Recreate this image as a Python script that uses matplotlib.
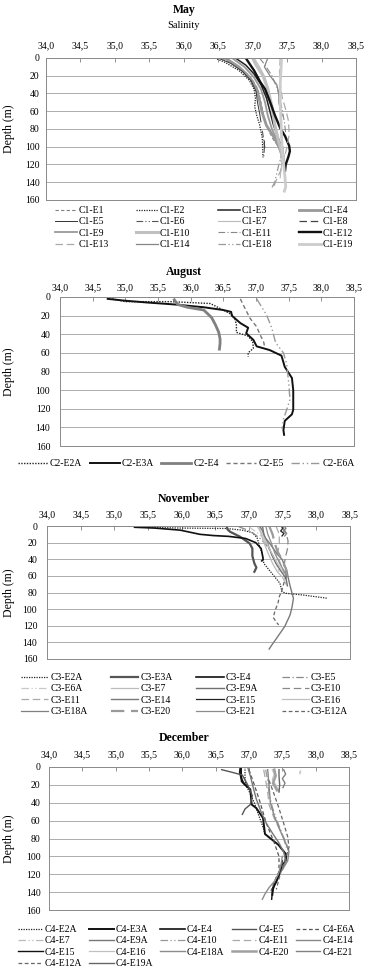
import matplotlib
matplotlib.use('Agg')
import matplotlib.pyplot as plt

plt.rcParams['font.family'] = ['Liberation Serif', 'DejaVu Serif']

W, H = 369, 975

# ---- eixos comuns ----
x_ticks = [34.0, 34.5, 35.0, 35.5, 36.0, 36.5, 37.0, 37.5, 38.0, 38.5]
x_tick_labels = ['34,0', '34,5', '35,0', '35,5', '36,0', '36,5', '37,0', '37,5', '38,0', '38,5']
y_ticks = [0, 20, 40, 60, 80, 100, 120, 140, 160]

# ---- May (C1) ----
may_labels = ['C1-E1', 'C1-E2', 'C1-E3', 'C1-E4', 'C1-E5', 'C1-E6', 'C1-E7', 'C1-E8',
              'C1-E9', 'C1-E10', 'C1-E11', 'C1-E12', 'C1-E13', 'C1-E14', 'C1-E18', 'C1-E19']
may_salinity = [
    [36.55, 36.70, 36.88, 37.00, 37.08, 37.12, 37.16, 37.22, 37.30, 37.38],
    [36.45, 36.60, 36.80, 36.95, 37.02, 37.04, 37.03, 37.06, 37.10, 37.14, 37.15],
    [36.75, 36.90, 37.02, 37.12, 37.20, 37.25, 37.30, 37.36, 37.42, 37.45],
    [36.60, 36.80, 36.96, 37.06, 37.10, 37.14, 37.20, 37.30, 37.38, 37.44],
    [36.50, 36.68, 36.85, 36.98, 37.05, 37.07, 37.10, 37.12],
    [37.14, 37.16, 37.17, 37.16],
    [37.02, 37.10, 37.18, 37.24, 37.28, 37.32, 37.36, 37.40, 37.42, 37.40],
    [37.17, 37.17, 37.18],
    [36.70, 36.88, 37.02, 37.12, 37.18, 37.22, 37.28, 37.35, 37.42],
    [37.00, 37.05, 37.15, 37.22, 37.28, 37.32, 37.38, 37.44, 37.46],
    [37.10, 37.18, 37.28, 37.36, 37.42, 37.46, 37.48],
    [36.90, 36.95, 37.02, 37.11, 37.18, 37.25, 37.32, 37.40, 37.47, 37.53, 37.54, 37.52, 37.48, 37.47],
    [37.40, 37.39, 37.40, 37.43, 37.48, 37.52, 37.53, 37.50, 37.45, 37.40, 37.33, 37.30],
    [37.22, 37.17, 37.25, 37.35, 37.38, 37.38, 37.40, 37.43],
    [37.45, 37.42, 37.38, 37.35, 37.32, 37.28],
    [37.42, 37.41, 37.40, 37.40, 37.41, 37.42, 37.43, 37.45, 37.47, 37.48, 37.46],
]
may_depth = [
    [0, 6, 15, 25, 36, 50, 65, 80, 92, 100],
    [0, 5, 14, 25, 35, 45, 55, 65, 75, 90, 112],
    [0, 8, 18, 30, 45, 60, 75, 88, 100, 110],
    [0, 10, 22, 35, 48, 62, 76, 88, 100, 112],
    [0, 6, 15, 26, 38, 50, 62, 72],
    [82, 92, 102, 112],
    [0, 10, 22, 38, 55, 72, 88, 105, 120, 135],
    [93, 98, 104],
    [0, 10, 22, 35, 50, 65, 80, 92, 104],
    [0, 8, 20, 35, 55, 75, 95, 110, 122],
    [0, 8, 20, 35, 55, 72, 85],
    [0, 6, 14, 27, 35, 49, 64, 79, 88, 99, 105, 111, 120, 127],
    [0, 15, 30, 45, 58, 71, 86, 100, 115, 128, 140, 147],
    [0, 10, 20, 30, 40, 50, 58, 65],
    [100, 110, 120, 130, 140, 146],
    [0, 15, 30, 50, 70, 90, 105, 120, 135, 145, 150],
]

# ---- August (C2) ----
aug_labels = ['C2-E2A', 'C2-E3A', 'C2-E4', 'C2-E5', 'C2-E6A']
aug_salinity = [
    [34.80, 35.00, 35.70, 36.30, 36.50, 36.63, 36.68, 36.70, 36.70, 36.88, 36.95, 36.96, 36.88, 36.88],
    [34.73, 35.00, 35.35, 35.75, 36.20, 36.50, 36.62, 36.63, 36.76, 36.88, 36.85, 36.96, 37.01,
     37.21, 37.39, 37.44, 37.55, 37.57, 37.57, 37.55, 37.44, 37.42, 37.43],
    [35.75, 35.80, 35.95, 36.20, 36.32, 36.38, 36.43, 36.45, 36.45, 36.44],
    [36.76, 36.83, 36.91, 37.01, 37.06, 37.12, 37.13],
    [37.01, 37.16, 37.24, 37.30, 37.42, 37.47, 37.50, 37.52, 37.47, 37.42, 37.40],
]
aug_depth = [
    [2, 5, 5, 7, 14, 19, 24, 30, 38, 42, 48, 55, 60, 64],
    [2, 4, 6, 8, 11, 14, 16, 20, 28, 33, 39, 46, 53, 57, 63, 75, 87, 100, 121, 126, 133, 143, 148],
    [3, 8, 11, 14, 22, 30, 38, 45, 50, 56],
    [2, 12, 23, 32, 40, 49, 53],
    [2, 19, 33, 49, 60, 72, 92, 110, 121, 131, 142],
]

# ---- November (C3) ----
nov_labels = ['C3-E2A', 'C3-E3A', 'C3-E4', 'C3-E5', 'C3-E6A', 'C3-E7', 'C3-E9A', 'C3-E10',
              'C3-E11', 'C3-E14', 'C3-E15', 'C3-E16', 'C3-E18A', 'C3-E20', 'C3-E21', 'C3-E12A']
nov_salinity = [
    [35.45, 36.00, 36.67, 36.90, 37.05, 37.12, 37.16, 37.20, 37.22, 37.32, 37.46, 37.49, 37.55, 37.80, 38.17],
    [36.67, 36.68, 36.72, 36.87, 37.01, 37.05, 37.05, 37.08, 37.11, 37.08],
    [35.30, 35.60, 35.98, 36.27, 36.47, 36.70, 36.95, 37.10, 37.18, 37.20, 37.21, 37.19],
    [36.85, 36.95, 37.05, 37.15, 37.25, 37.33, 37.40],
    [37.00, 37.12, 37.22, 37.30, 37.38, 37.45],
    [37.15, 37.18, 37.22, 37.28, 37.35, 37.42, 37.50, 37.55],
    [37.20, 37.22, 37.28, 37.34, 37.40, 37.48, 37.55, 37.57],
    [37.50, 37.55, 37.58, 37.57, 37.54, 37.52, 37.55],
    [37.40, 37.45, 37.45, 37.42, 37.48, 37.52],
    [37.16, 37.20, 37.24, 37.30, 37.36, 37.42, 37.49, 37.56, 37.59, 37.61, 37.66, 37.64, 37.61,
     37.53, 37.41, 37.34, 37.30],
    [37.48, 37.50, 37.47, 37.52, 37.49],
    [37.12, 37.18, 37.25, 37.32, 37.40, 37.48],
    [37.52, 37.55, 37.51, 37.56, 37.53],
    [37.30, 37.35, 37.38, 37.42, 37.50, 37.55, 37.56],
    [37.25, 37.28, 37.33, 37.38, 37.45, 37.52, 37.56],
    [37.55, 37.52, 37.49, 37.45, 37.43, 37.39, 37.36, 37.40, 37.44],
]
nov_depth = [
    [1.5, 2.5, 3, 5, 8, 14, 25, 35, 45, 55, 69, 79, 81, 83, 87],
    [0, 4, 7, 13, 21, 27, 36, 45, 50, 55],
    [1.5, 2.5, 5, 10, 11.5, 12.5, 15, 20, 27, 35, 40, 42],
    [1, 4, 8, 14, 22, 32, 42],
    [1, 8, 16, 28, 42, 55],
    [0, 10, 20, 32, 45, 55, 62, 70],
    [0, 10, 22, 35, 45, 55, 63, 72],
    [1, 8, 18, 28, 38, 48, 58],
    [0, 10, 22, 35, 48, 58],
    [0, 6, 14, 20, 27, 34, 40, 53, 65, 72, 87, 97, 107, 121, 135, 143, 148],
    [0, 3, 6, 9, 12],
    [0, 8, 18, 30, 42, 52],
    [0, 3, 6, 9, 12],
    [0, 10, 20, 30, 42, 52, 60],
    [0, 10, 20, 32, 44, 54, 62],
    [60, 68, 77, 85, 93, 101, 110, 115, 119],
]

# ---- December (C4) ----
dec_labels = ['C4-E2A', 'C4-E3A', 'C4-E4', 'C4-E5', 'C4-E6A', 'C4-E7', 'C4-E9A', 'C4-E10', 'C4-E11',
              'C4-E14', 'C4-E15', 'C4-E16', 'C4-E18A', 'C4-E20', 'C4-E21', 'C4-E12A', 'C4-E19A']
dec_salinity = [
    [36.94, 36.94, 36.95, 37.00, 37.08, 37.14, 37.20, 37.24],
    [36.88, 36.88, 36.89, 36.94, 37.02, 37.04, 37.11, 37.21, 37.24, 37.34, 37.44, 37.56, 37.55,
     37.50, 37.45, 37.41, 37.36, 37.35],
    [36.87, 36.86, 36.88, 36.92, 36.98],
    [36.59, 36.75, 36.90, 36.98, 37.05, 37.02, 36.94, 36.90],
    [37.00, 37.08, 37.16, 37.26, 37.38, 37.45, 37.45, 37.38, 37.33],
    [37.78, 37.76, 37.77],
    [36.98, 37.02, 37.06, 37.11, 37.18, 37.26, 37.36, 37.45, 37.52, 37.55, 37.50],
    [37.25, 37.28, 37.30, 37.35, 37.42, 37.50, 37.56],
    [37.22, 37.25, 37.28, 37.30, 37.38, 37.48, 37.56, 37.60],
    [37.28, 37.30, 37.32, 37.38, 37.46, 37.55, 37.60, 37.58, 37.50],
    [37.50, 37.47, 37.43, 37.38, 37.35, 37.34],
    [37.35, 37.38, 37.35, 37.40, 37.45],
    [37.50, 37.48, 37.44, 37.38, 37.30, 37.24, 37.20],
    [37.38, 37.40, 37.36, 37.42],
    [37.52, 37.55, 37.50, 37.54, 37.51],
    [37.30, 37.36, 37.44, 37.52, 37.58, 37.60, 37.55, 37.50, 37.45, 37.41],
    [37.45, 37.45, 37.46, 37.45],
]
dec_depth = [
    [0, 10, 20, 27, 40, 53, 65, 75],
    [0, 8, 16, 20, 25, 42, 46, 57, 75, 81, 87, 98, 105, 110, 121, 128, 135, 143],
    [0, 6, 12, 18, 22],
    [3, 6, 9, 20, 32, 42, 47, 53],
    [3, 20, 38, 63, 85, 100, 117, 128, 139],
    [4, 6, 8],
    [0, 10, 22, 36, 50, 63, 75, 85, 95, 105, 115],
    [3, 15, 30, 45, 60, 75, 90],
    [3, 15, 28, 42, 58, 72, 85, 95],
    [3, 20, 40, 55, 70, 85, 95, 105, 115],
    [105, 115, 125, 133, 140, 148],
    [3, 8, 14, 20, 27],
    [100, 110, 120, 128, 135, 142, 148],
    [3, 10, 18, 26],
    [3, 8, 13, 18, 23],
    [15, 27, 44, 63, 78, 90, 102, 112, 125, 137],
    [3, 10, 20, 28],
]

# estilos das linhas (cor, tipo, espessura)
SOLID = '-'
DOT = (0, (1, 1))
DASH = (0, (3, 2))
LDASH = (0, (6, 3))
DDOT = (0, (6, 2, 1, 2))
DDOT2 = (0, (6, 2, 1, 2, 1, 2))

may_styles = [
    dict(color='#808080', ls=DASH, lw=0.8),
    dict(color='#222222', ls=DOT, lw=0.9),
    dict(color='#222222', ls=SOLID, lw=1.1),
    dict(color='#999999', ls=SOLID, lw=2.0),
    dict(color='#333333', ls=SOLID, lw=0.7),
    dict(color='#555555', ls=DDOT2, lw=0.8),
    dict(color='#bbbbbb', ls=SOLID, lw=0.8),
    dict(color='#444444', ls=LDASH, lw=0.9),
    dict(color='#999999', ls=SOLID, lw=1.3),
    dict(color='#c0c0c0', ls=SOLID, lw=2.2),
    dict(color='#888888', ls=DDOT, lw=0.8),
    dict(color='#111111', ls=SOLID, lw=1.7),
    dict(color='#aaaaaa', ls=LDASH, lw=0.9),
    dict(color='#858585', ls=SOLID, lw=0.9),
    dict(color='#999999', ls=DDOT2, lw=0.9),
    dict(color='#cccccc', ls=SOLID, lw=2.0),
]
aug_styles = [
    dict(color='#222222', ls=DOT, lw=1.0),
    dict(color='#111111', ls=SOLID, lw=1.4),
    dict(color='#808080', ls=SOLID, lw=2.0),
    dict(color='#777777', ls=DASH, lw=1.0),
    dict(color='#999999', ls=DDOT2, lw=1.0),
]
nov_styles = [
    dict(color='#222222', ls=DOT, lw=0.9),
    dict(color='#555555', ls=SOLID, lw=1.6),
    dict(color='#111111', ls=SOLID, lw=1.2),
    dict(color='#888888', ls=DDOT, lw=0.9),
    dict(color='#c8c8c8', ls=DDOT2, lw=0.9),
    dict(color='#bbbbbb', ls=SOLID, lw=0.9),
    dict(color='#6f6f6f', ls=SOLID, lw=1.0),
    dict(color='#888888', ls=LDASH, lw=0.9),
    dict(color='#aaaaaa', ls=LDASH, lw=0.9),
    dict(color='#7a7a7a', ls=SOLID, lw=1.0),
    dict(color='#222222', ls=SOLID, lw=0.9),
    dict(color='#c0c0c0', ls=SOLID, lw=0.9),
    dict(color='#808080', ls=SOLID, lw=0.9),
    dict(color='#9a9a9a', ls=LDASH, lw=1.6),
    dict(color='#8c8c8c', ls=SOLID, lw=0.9),
    dict(color='#666666', ls=DASH, lw=0.9),
]
dec_styles = [
    dict(color='#222222', ls=DOT, lw=0.9),
    dict(color='#111111', ls=SOLID, lw=1.4),
    dict(color='#111111', ls=SOLID, lw=1.2),
    dict(color='#555555', ls=SOLID, lw=1.0),
    dict(color='#555555', ls=DASH, lw=0.9),
    dict(color='#bbbbbb', ls=DDOT2, lw=0.9),
    dict(color='#777777', ls=SOLID, lw=1.0),
    dict(color='#999999', ls=DDOT2, lw=0.9),
    dict(color='#aaaaaa', ls=LDASH, lw=0.9),
    dict(color='#888888', ls=SOLID, lw=1.0),
    dict(color='#111111', ls=SOLID, lw=1.0),
    dict(color='#c0c0c0', ls=SOLID, lw=0.9),
    dict(color='#8c8c8c', ls=SOLID, lw=1.0),
    dict(color='#a0a0a0', ls=SOLID, lw=1.8),
    dict(color='#808080', ls=SOLID, lw=1.0),
    dict(color='#666666', ls=DASH, lw=0.9),
    dict(color='#666666', ls=SOLID, lw=1.0),
]

FS_TICK = 7
FS_LEG = 7


def px_box(left, right, top, bottom):
    return [left / W, 1 - bottom / H, (right - left) / W, (bottom - top) / H]


def draw_panel(rect, labels, sal, dep, styles, xpad, ypad):
    ax = fig.add_axes(px_box(*rect))
    for lab, s, d, st in zip(labels, sal, dep, styles):
        ax.plot(s, d, label=lab, **st)
    ax.set_xlim(34.0, 38.5)
    ax.set_ylim(160, 0)
    ax.xaxis.tick_top()
    ax.set_xticks(x_ticks)
    ax.set_xticklabels(x_tick_labels)
    ax.set_yticks(y_ticks)
    ax.tick_params(axis='x', direction='in', length=3, width=0.6, color='#808080',
                   labelsize=FS_TICK, pad=xpad)
    ax.tick_params(axis='y', length=0, labelsize=FS_TICK, pad=ypad)
    ax.grid(axis='y', color='#a0a0a0', lw=0.6)
    ax.set_axisbelow(True)
    for sp in ax.spines.values():
        sp.set_color('#8a8a8a')
        sp.set_linewidth(0.7)
    ax.set_ylabel('Depth (m)', fontsize=8.5)
    ax.yaxis.set_label_coords((15 - rect[0]) / (rect[1] - rect[0]), 0.5)
    return ax


def row_legend(ax, ncol, x, y, hlen, cspace):
    # o matplotlib preenche por coluna; reordenar para ler por linha
    handles, labels = ax.get_legend_handles_labels()
    n = len(handles)
    order = [i for c in range(ncol) for i in range(c, n, ncol)]
    fig.legend([handles[i] for i in order], [labels[i] for i in order],
               loc='upper left', bbox_to_anchor=(x / W, 1 - y / H), ncol=ncol,
               frameon=False, borderpad=0, borderaxespad=0, fontsize=FS_LEG,
               handlelength=hlen, handletextpad=0.2, columnspacing=cspace,
               labelspacing=0.24)


fig = plt.figure(figsize=(W / 100, H / 100), dpi=100)

# May
ax1 = draw_panel((46, 356, 58, 200), may_labels, may_salinity, may_depth, may_styles, 5.5, 4.5)
fig.text(184 / W, 1 - 10 / H, 'May', ha='center', va='center', fontsize=8.5, fontweight='bold')
fig.text(184 / W, 1 - 25 / H, 'Salinity', ha='center', va='center', fontsize=7.5)
row_legend(ax1, 4, 55, 206, 2.25, 2.8)

# August
ax2 = draw_panel((60, 354, 297, 446), aug_labels, aug_salinity, aug_depth, aug_styles, 3.5, 7)
fig.text(184 / W, 1 - 272 / H, 'August', ha='center', va='center', fontsize=8.5, fontweight='bold')
row_legend(ax2, 5, 18, 459, 3.1, 0.75)

# November
ax3 = draw_panel((47, 350, 526, 659), nov_labels, nov_salinity, nov_depth, nov_styles, 4.5, 7)
fig.text(184 / W, 1 - 499 / H, 'November', ha='center', va='center', fontsize=8.5, fontweight='bold')
row_legend(ax3, 4, 21, 673, 2.8, 2.45)

# December
ax4 = draw_panel((49, 349, 767, 910), dec_labels, dec_salinity, dec_depth, dec_styles, 5.5, 6)
fig.text(184 / W, 1 - 738 / H, 'December', ha='center', va='center', fontsize=8.5, fontweight='bold')
row_legend(ax4, 5, 18, 925, 2.55, 0.72)

fig.savefig('out.png', dpi=100)
